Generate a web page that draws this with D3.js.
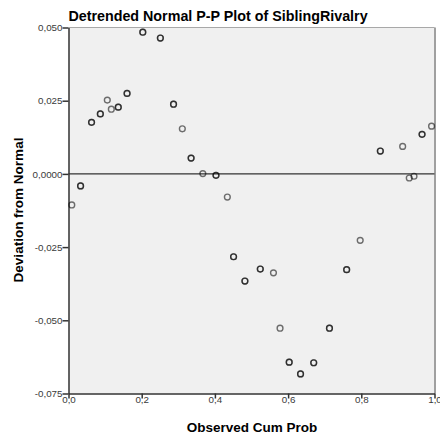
<!DOCTYPE html>
<html><head><meta charset="utf-8">
<script src="https://cdn.jsdelivr.net/npm/d3@7"></script>
<style>body{margin:0;background:#fff}svg{display:block;font-family:"Liberation Sans",Arial,sans-serif}</style>
</head><body><div id="c"></div>
<script>
const title = "Detrended Normal P-P Plot of SiblingRivalry";
const xLabel = "Observed Cum Prob";
const yLabel = "Deviation from Normal";
const xTicks = [0, 0.2, 0.4, 0.6, 0.8, 1.0];
const xTickLabels = ["0,0", "0,2", "0,4", "0,6", "0,8", "1,0"];
const yTicks = [0.05, 0.025, 0, -0.025, -0.05, -0.075];
const yTickLabels = ["0,050", "0,025", "0,0000", "-0,025", "-0,050", "-0,075"];
const obsCumProb = [0.009,0.033,0.063,0.087,0.106,0.117,0.136,0.160,0.203,0.251,0.287,0.311,0.335,0.367,0.403,0.434,0.451,0.482,0.524,0.560,0.578,0.603,0.634,0.670,0.713,0.760,0.797,0.852,0.913,0.931,0.944,0.966,0.992];
const deviation = [-0.0106,-0.0041,0.0176,0.0205,0.0252,0.0221,0.0228,0.0275,0.0484,0.0464,0.0238,0.0154,0.0054,0.0001,-0.0005,-0.0079,-0.0283,-0.0366,-0.0325,-0.0338,-0.0527,-0.0643,-0.0683,-0.0645,-0.0527,-0.0327,-0.0227,0.0078,0.0094,-0.0014,-0.0008,0.0135,0.0163];
const ties = [1,2,2,2,1,1,2,2,2,2,2,1,2,1,2,1,2,2,2,1,1,2,2,2,2,2,1,2,1,1,1,2,1];

const W = 440, H = 439;
const L = 68.5, R = 434.5, T = 27.5, B = 393.5;
const svg = d3.select("#c").append("svg").attr("width", W).attr("height", H);
const x = d3.scaleLinear().domain([0, 1]).range([L, R]);
const y = d3.scaleLinear().domain([-0.075, 0.05]).range([B, T]);

svg.append("rect").attr("x", L).attr("y", T).attr("width", R - L).attr("height", B - T)
  .attr("fill", "#f0f0f0");
svg.append("line").attr("x1", L).attr("x2", R).attr("y1", T).attr("y2", T).attr("stroke", "#a8a8a8").attr("stroke-width", 1);
svg.append("line").attr("x1", R + 0.5).attr("x2", R + 0.5).attr("y1", T).attr("y2", B).attr("stroke", "#a0a0a0").attr("stroke-width", 2);

svg.append("line").attr("x1", L).attr("x2", R).attr("y1", y(0)).attr("y2", y(0))
  .attr("stroke", "#333").attr("stroke-width", 1.2);

const xAxis = d3.axisBottom(x).tickValues(xTicks).tickSize(5).tickSizeOuter(0)
  .tickFormat((d, i) => xTickLabels[i]);
const gx = svg.append("g").attr("transform", `translate(0,${B})`).call(xAxis);
const yAxis = d3.axisLeft(y).tickValues(yTicks).tickSize(6).tickSizeOuter(0)
  .tickFormat((d, i) => yTickLabels[i]);
const gy = svg.append("g").attr("transform", `translate(${L},0)`).call(yAxis);
[gx, gy].forEach(g => {
  g.select(".domain").attr("stroke", "#333").attr("stroke-width", 1.5);
  g.selectAll(".tick line").attr("stroke", "#333").attr("stroke-width", 1.5);
  g.selectAll(".tick text").attr("fill", "#3a3a3a").attr("font-size", 9.8)
    .attr("font-family", "Liberation Sans, Arial, sans-serif");
});
gx.selectAll(".tick text").attr("dy", "0.75em").attr("y", 2);
gy.selectAll(".tick text").attr("x", -6);

const pts = [];
obsCumProb.forEach((v, i) => { for (let k = 0; k < ties[i]; k++) pts.push([v, deviation[i]]); });
svg.append("g").selectAll("circle").data(pts).join("circle")
  .attr("cx", d => x(d[0])).attr("cy", d => y(d[1])).attr("r", 2.9)
  .attr("fill", "none").attr("stroke", "#000").attr("stroke-opacity", 0.55).attr("stroke-width", 1.4);

svg.append("text").attr("x", 218).attr("y", 20.5).attr("text-anchor", "middle")
  .attr("font-weight", "bold").attr("font-size", 14.3).attr("fill", "#000").text(title);
svg.append("text").attr("x", 252).attr("y", 432).attr("text-anchor", "middle")
  .attr("font-weight", "bold").attr("font-size", 13.5).attr("fill", "#000").text(xLabel);
svg.append("text").attr("transform", "translate(22.5,210) rotate(-90)").attr("text-anchor", "middle")
  .attr("font-weight", "bold").attr("font-size", 13.5).attr("fill", "#000").text(yLabel);
</script></body></html>
